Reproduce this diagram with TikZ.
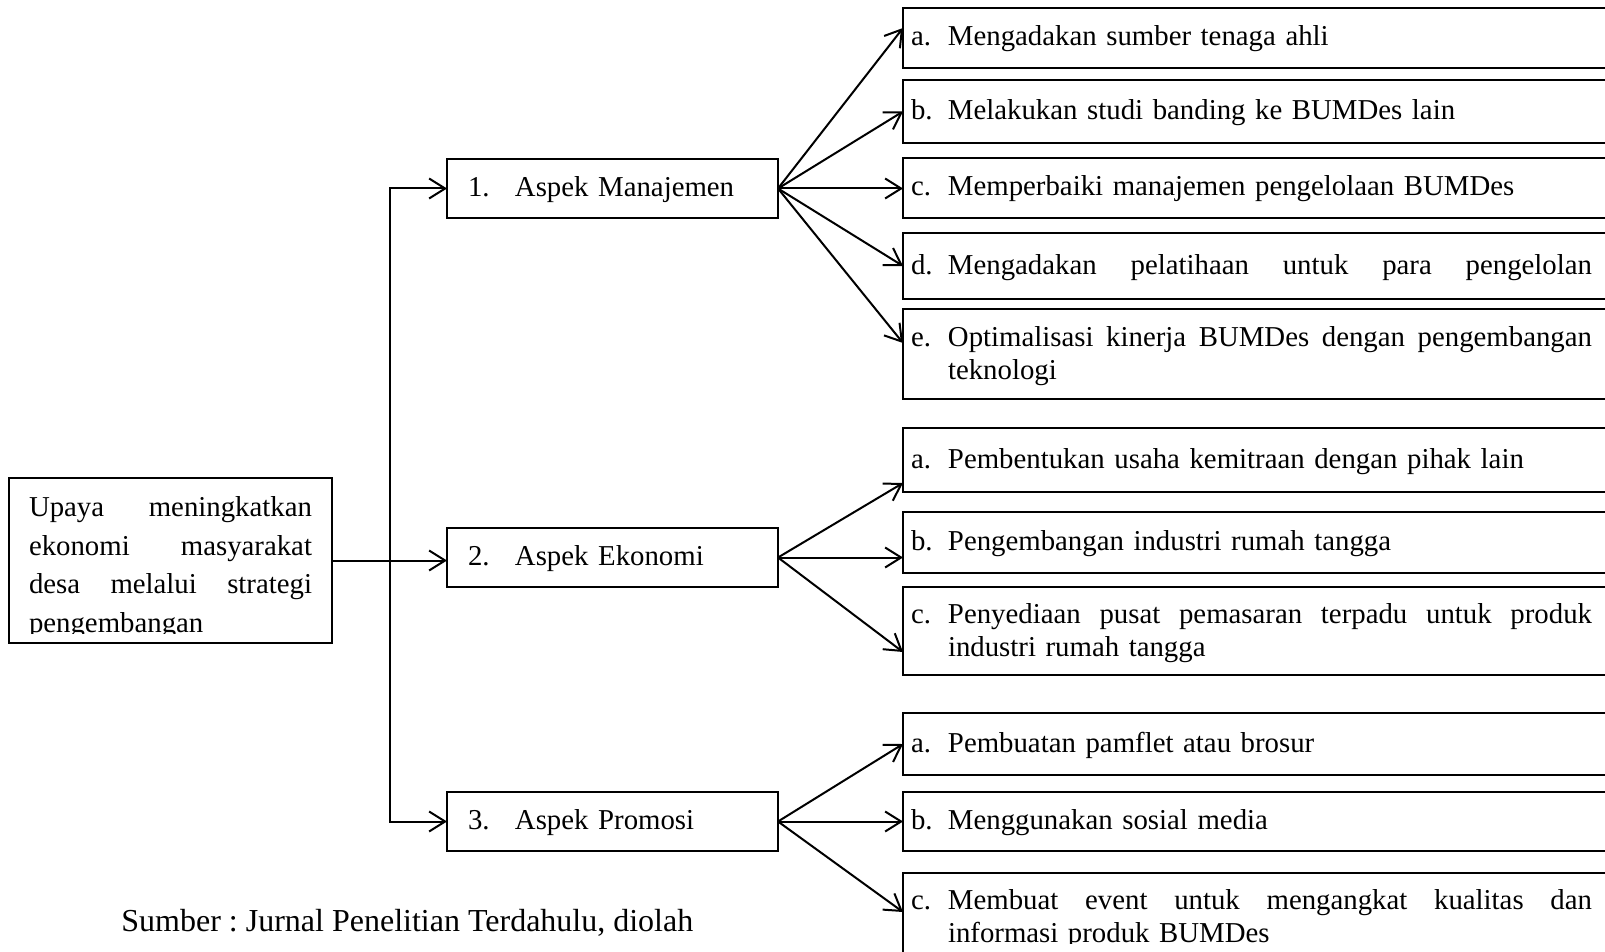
\documentclass[tikz,border=0pt]{standalone}
\usepackage{fontspec}
\setmainfont{Liberation Serif}
\usetikzlibrary{arrows.meta}
\frenchspacing
\newcommand{\itm}[2]{\rightskip=11.5pt\makebox[18.5pt][l]{#1}#2\par}

\begin{document}
\begin{tikzpicture}[x=0.5pt,y=-0.5pt,
   font=\fontsize{14.4}{16.5}\selectfont,
   >={Straight Barb[length=8pt,width=10pt]},
   conn/.style={->,line width=1pt},
   box/.style={draw,line width=0.6pt,anchor=north west,inner sep=0pt,outer sep=0pt},
   aspek/.style={box,minimum width=165.5pt,minimum height=29.5pt,text width=144.5pt,
      inner xsep=10.5pt,text height=10pt,text depth=2pt},
   item/.style={box,text width=352pt,inner xsep=4pt,text height=10pt,text depth=2pt},
   item2/.style={item,text depth=18pt}]
   \useasboundingbox (0,0) rectangle (1605,952);
   \clip (0,0) rectangle (1605,952);
   \begin{scope}
    \clip (0,0) rectangle (1605,633);
    \node[box,draw=none,minimum width=161.5pt,minimum height=82.5pt,text width=141.5pt,
       text height=10pt,text depth=53.6pt,font=\fontsize{14.4}{19.2}\selectfont] (upaya) at (9,478)
       {Upaya\hfill meningkatkan\\ ekonomi\hfill masyarakat\\ desa\hfill melalui\hfill strategi\\ pengembangan};
   \end{scope}
   \draw[line width=0.6pt] (upaya.north west) rectangle (upaya.south east);
   \node[aspek] (mgt) at (447,159) {\makebox[23.5pt][l]{1.}Aspek Manajemen};
   \node[aspek] (eko) at (447,528) {\makebox[23.5pt][l]{2.}Aspek Ekonomi};
   \node[aspek] (pro) at (447,792) {\makebox[23.5pt][l]{3.}Aspek Promosi};
   \node[item,minimum height=30pt] (ma) at (903,8) {\itm{a.}{Mengadakan sumber tenaga ahli}};
   \node[item,minimum height=31.5pt] (mb) at (903,80) {\itm{b.}{Melakukan studi banding ke BUMDes lain}};
   \node[item,minimum height=30pt] (mc) at (903,158) {\itm{c.}{Memperbaiki manajemen pengelolaan BUMDes}};
   \node[item,minimum height=33pt] (md) at (903,233)
      {\itm{d.}{Mengadakan\hfill pelatihaan\hfill untuk\hfill para\hfill pengelolan}};
   \node[item2,minimum height=45pt] (me) at (903,309)
      {\itm{e.}{Optimalisasi\hfill kinerja\hfill BUMDes\hfill dengan\hfill pengembangan\\
      \hspace*{18.5pt}teknologi}};
   \node[item,minimum height=32pt] (ea) at (903,428) {\itm{a.}{Pembentukan usaha kemitraan dengan pihak lain}};
   \node[item,minimum height=30.5pt] (eb) at (903,512) {\itm{b.}{Pengembangan industri rumah tangga}};
   \node[item2,minimum height=44pt] (ec) at (903,587)
      {\itm{c.}{Penyediaan\hfill pusat\hfill pemasaran\hfill terpadu\hfill untuk\hfill produk\\
      \hspace*{18.5pt}industri rumah tangga}};
   \node[item,minimum height=31pt] (pa) at (903,713) {\itm{a.}{Pembuatan pamflet atau brosur}};
   \node[item,minimum height=29.5pt] (pb) at (903,792) {\itm{b.}{Menggunakan sosial media}};
   \begin{scope}
    \clip (0,0) rectangle (1605,943);
    \node[item2,draw=none,minimum height=44pt] (pc) at (903,873)
       {\itm{c.}{Membuat\hfill event\hfill untuk\hfill mengangkat\hfill kualitas\hfill dan\\
       \hspace*{18.5pt}informasi produk BUMDes}};
   \end{scope}
   \draw[line width=0.6pt] (pc.south west) rectangle (pc.north east);
   \node[anchor=base west,inner sep=0pt,font=\fontsize{16}{19}\selectfont] (src) at (121,931)
      {Sumber : Jurnal Penelitian Terdahulu, diolah};
   \coordinate (split) at (390,560.5);
   \draw[conn] (upaya.east) -- (upaya.east -| eko.west);
   \draw[conn] (split) |- (mgt.west);
   \draw[conn] (split) |- (pro.west);
   \foreach \t/\s in {ma/5pt,mb/0pt,md/0pt,me/5.5pt} {
    \draw[conn] (mgt.east) -- ([yshift=\s]\t.west);
   }
   \draw[conn] (mgt.east) -- (mgt.east -| mc.west);
   \foreach \t/\s in {ea/-11.5pt,ec/-10.5pt} {
    \draw[conn] (eko.east) -- ([yshift=\s]\t.west);
   }
   \draw[conn] (eko.east) -- (eko.east -| eb.west);
   \foreach \t/\s in {pa/0pt,pc/2.5pt} {
    \draw[conn] (pro.east) -- ([yshift=\s]\t.west);
   }
   \draw[conn] (pro.east) -- (pro.east -| pb.west);
  \end{tikzpicture}
\end{document}
